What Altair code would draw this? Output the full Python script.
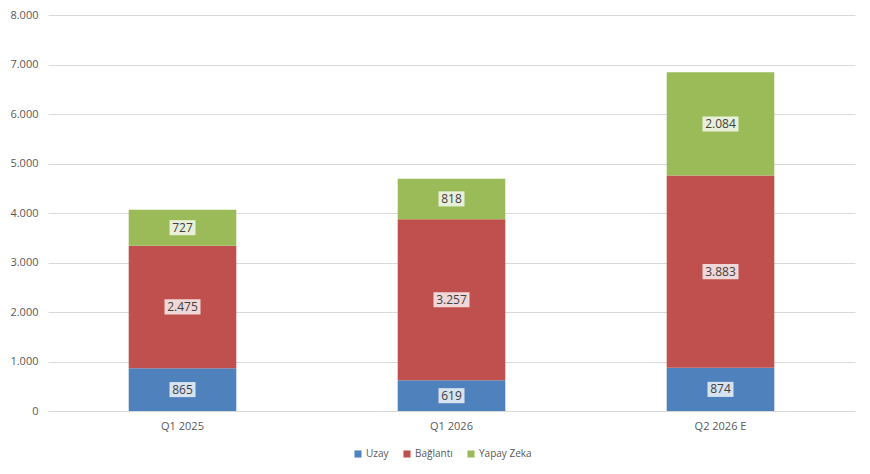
import altair as alt
import pandas as pd

categories = ["Q1 2025", "Q1 2026", "Q2 2026 E"]
series = ["Uzay", "Bağlantı", "Yapay Zeka"]
uzay = [865, 619, 874]
baglanti = [2475, 3257, 3883]
yapay_zeka = [727, 818, 2084]
colors = ["#4F81BD", "#C0504D", "#9BBB59"]
y_ticks = [0, 1000, 2000, 3000, 4000, 5000, 6000, 7000, 8000]

rows = []
for i, c in enumerate(categories):
    base = 0
    for s, vals in zip(series, [uzay, baglanti, yapay_zeka]):
        v = vals[i]
        rows.append({"cat": c, "series": s, "order": series.index(s), "value": v,
                     "y0": base, "y1": base + v, "mid": base + v / 2})
        base += v
df = pd.DataFrame(rows)
df["label"] = df["value"].apply(lambda v: f"{v:,}".replace(",", "."))

font = "Open Sans"
grey = "#595959"

xscale = alt.Scale(domain=categories, paddingInner=0.6, paddingOuter=0.3)
yscale = alt.Scale(domain=[0, 8000], nice=False)

base = alt.Chart(df)

bars = base.mark_bar().encode(
    x=alt.X("cat:N", scale=xscale, sort=categories,
            axis=alt.Axis(title=None, labelAngle=0, ticks=False, domain=False,
                          labelColor=grey, labelFont=font, labelFontSize=11, labelPadding=9)),
    y=alt.Y("y0:Q", scale=yscale,
            axis=alt.Axis(title=None, values=y_ticks, ticks=False, domain=False,
                          gridColor="#D9D9D9", gridWidth=1,
                          labelColor=grey, labelFont=font, labelFontSize=11, labelPadding=10,
                          labelExpr="replace(format(datum.value, ','), ',', '.')")),
    y2="y1:Q",
    color=alt.Color("series:N", scale=alt.Scale(domain=series, range=colors),
                    legend=alt.Legend(title=None, orient="none", direction="horizontal",
                                      legendX=305, legendY=434, symbolType="square",
                                      symbolSize=50, symbolStrokeWidth=0,
                                      labelColor=grey, labelFont=font, labelFontSize=10,
                                      columnPadding=13, labelOffset=3, padding=0)),
    order="order:Q",
)

long_shape = "M-1,-0.42L1,-0.42L1,0.42L-1,0.42Z"
short_shape = "M-1,-0.58L1,-0.58L1,0.58L-1,0.58Z"

box_long = base.transform_filter("length(datum.label) > 3").mark_point(
    shape=long_shape, filled=True, color="white", opacity=0.78, size=1296, strokeWidth=0
).encode(x=alt.X("cat:N", scale=xscale, sort=categories), y=alt.Y("mid:Q", scale=yscale))

box_short = base.transform_filter("length(datum.label) <= 3").mark_point(
    shape=short_shape, filled=True, color="white", opacity=0.78, size=676, strokeWidth=0
).encode(x=alt.X("cat:N", scale=xscale, sort=categories), y=alt.Y("mid:Q", scale=yscale))

texts = base.mark_text(font=font, fontSize=12, color="#404040", baseline="middle").encode(
    x=alt.X("cat:N", scale=xscale, sort=categories),
    y=alt.Y("mid:Q", scale=yscale),
    text="label:N",
)

chart = alt.layer(bars, box_long, box_short, texts).properties(
    width=807, height=396,
    autosize=alt.AutoSizeParams(type="none"),
    padding={"left": 40, "top": 7, "right": 7, "bottom": 55},
    background="white",
).configure_view(stroke=None)

chart.save("out.html", embed_options={"renderer": "svg", "actions": False})
